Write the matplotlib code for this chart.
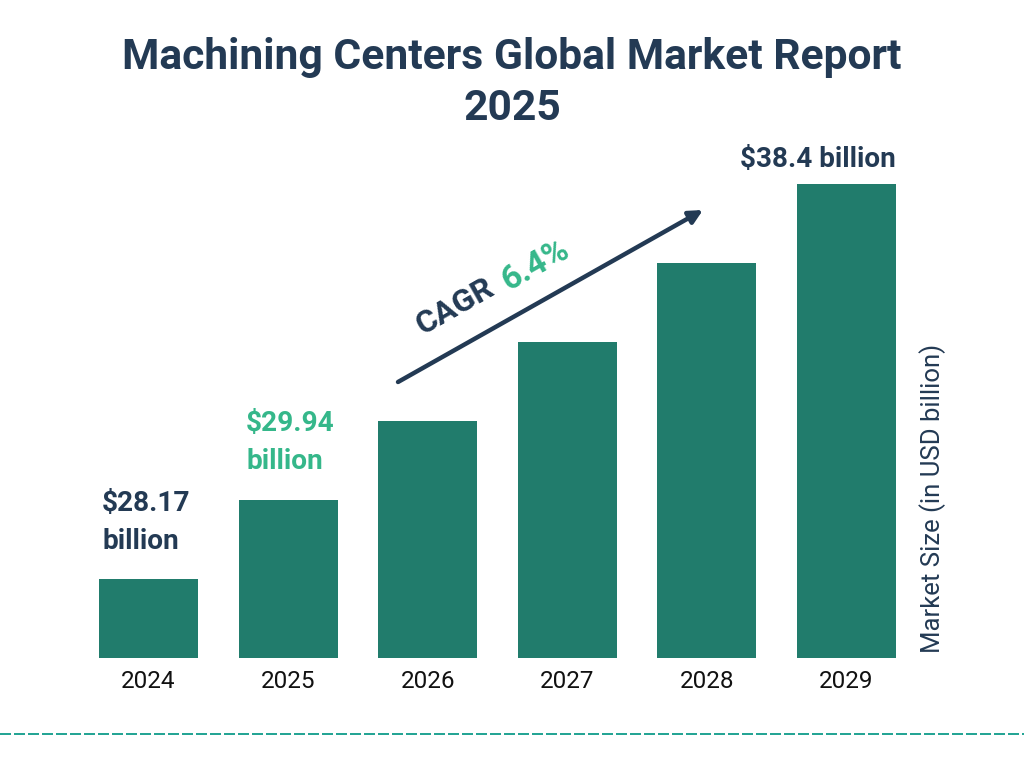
# Machining centers market bars, 1024x768
import matplotlib
matplotlib.use("Agg")
from matplotlib import pyplot as plt

years = ["2024", "2025", "2026", "2027", "2028", "2029"]
# bars in the picture are schematic (even steps), heights read in pixels
bar_heights = [79, 158, 237, 316, 395, 474]

title_text = "Machining Centers Global Market Report\n2025"
label_2024 = "$28.17\nbillion"
label_2025 = "$29.94\nbillion"
label_2029 = "$38.4 billion"
cagr_word = "CAGR"
cagr_value = "6.4%"
axis_text = "Market Size (in USD billion)"

NAVY = "#233a54"
BAR = "#217c6c"
GREEN = "#35b78a"
TEAL = "#1fa393"

W, H = 1024, 768
plt.rcParams["font.family"] = ["Roboto", "DejaVu Sans"]


def fx(x):
	return x / W


def fy(y):
	return 1 - y / H


fig = plt.figure(figsize=(10.24, 7.68), dpi=100, facecolor="white")

ax = fig.add_axes([fx(99), fy(658), 797 / W, 474 / H])
ax.bar(range(len(years)), bar_heights, width=0.71, color=BAR, linewidth=0)
ax.set_xlim(-0.355, 5.355)
ax.set_ylim(0, 474)
ax.set_xticks(range(len(years)))
ax.set_xticklabels(years, fontsize=17.5, color="#111111")
ax.tick_params(axis="x", length=0, pad=8.3)
ax.set_yticks([])
for spine in ax.spines.values():
	spine.set_visible(False)
ax.patch.set_alpha(0)

fig.text(fx(512), fy(83), title_text, ha="center", va="center", fontsize=30.7, fontweight="bold",
	color=NAVY, linespacing=1.3)

fig.text(fx(102), fy(522.5), label_2024, ha="left", va="center", fontsize=20.2, fontweight="bold",
	color=NAVY, linespacing=1.48)
fig.text(fx(246), fy(442.5), label_2025, ha="left", va="center", fontsize=20.2, fontweight="bold",
	color=GREEN, linespacing=1.48)
fig.text(fx(818), fy(160), label_2029, ha="center", va="center", fontsize=20.1, fontweight="bold",
	color=NAVY)

# CAGR arrow and the slanted text over it
fig.add_artist(matplotlib.patches.FancyArrowPatch(
	(fx(398), fy(382)), (fx(703), fy(210)), transform=fig.transFigure,
	arrowstyle="-|>", mutation_scale=20, linewidth=3.2, color=NAVY, shrinkA=0, shrinkB=0))
fig.text(fx(455), fy(306), cagr_word, ha="center", va="center", rotation=29.5, fontsize=23,
	fontweight="bold", color=NAVY, rotation_mode="anchor")
fig.text(fx(535), fy(265), cagr_value, ha="center", va="center", rotation=29.5, fontsize=24,
	fontweight="bold", color=GREEN, rotation_mode="anchor")

fig.text(fx(933), fy(498.5), axis_text, ha="center", va="center", rotation=90, fontsize=18.5, color=NAVY)

# dashed rule along the bottom
fig.add_artist(plt.Line2D([0, 1], [fy(734), fy(734)], transform=fig.transFigure, color=TEAL,
	linewidth=1.4, dashes=(5.66, 1.54)))

fig.savefig("out.png", dpi=100)
